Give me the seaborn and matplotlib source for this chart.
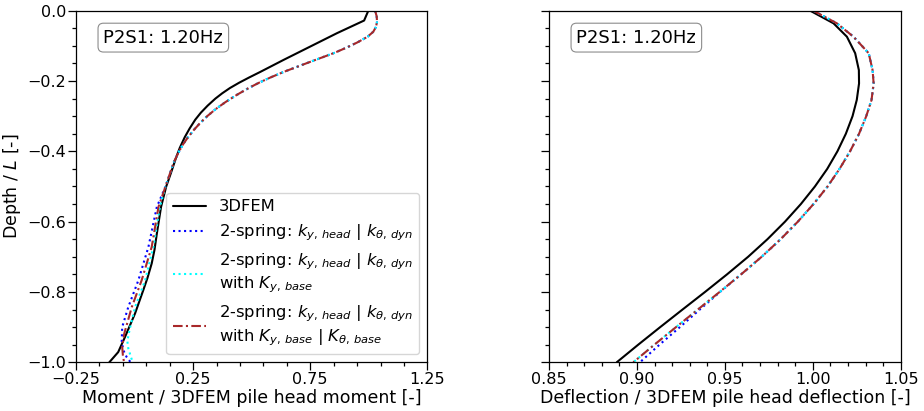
import matplotlib
matplotlib.use("Agg")
import matplotlib.pyplot as plt
import seaborn as sns
from matplotlib.ticker import MultipleLocator, AutoMinorLocator, FixedLocator, FuncFormatter

# ---------------------------------------------------------------------------
# Moment profiles, normalised by the 3DFEM pile-head moment
# ---------------------------------------------------------------------------
fem_m_depth = [0.0, -0.028, -0.064, -0.102, -0.140, -0.174, -0.190, -0.205, -0.220,
               -0.235, -0.250, -0.270, -0.290, -0.310, -0.335, -0.360, -0.390,
               -0.420, -0.460, -0.500, -0.558, -0.634, -0.680, -0.719, -0.760,
               -0.795, -0.861, -0.928, -0.971, -1.0]
fem_m = [0.998, 0.980, 0.864, 0.750, 0.636, 0.537, 0.489, 0.446, 0.407,
         0.374, 0.345, 0.312, 0.283, 0.259, 0.235, 0.214, 0.193,
         0.176, 0.156, 0.135, 0.113, 0.095, 0.085, 0.073, 0.055,
         0.037, 0.002, -0.041, -0.070, -0.108]

# the three 2-spring variants coincide in the upper half of the pile
spring_m_depth_top = [0.0, -0.017, -0.033, -0.047, -0.060, -0.074, -0.090, -0.105,
                      -0.120, -0.145, -0.174, -0.190, -0.205, -0.220, -0.240,
                      -0.260, -0.280, -0.300, -0.320, -0.340, -0.360, -0.380,
                      -0.400, -0.430, -0.465, -0.500]
spring_m_top = [1.027, 1.034, 1.035, 1.030, 1.019, 0.995, 0.952, 0.905,
                0.853, 0.752, 0.637, 0.580, 0.531, 0.487, 0.435,
                0.388, 0.346, 0.310, 0.279, 0.252, 0.228, 0.207,
                0.190, 0.168, 0.150, 0.132]

dyn_m_depth_tail = [-0.558, -0.672, -0.767, -0.843, -0.900, -0.942, -0.966, -0.985, -1.0]
dyn_m_tail = [0.095, 0.059, 0.016, -0.027, -0.053, -0.055, -0.048, -0.034, -0.017]

ybase_m_depth_tail = [-0.558, -0.672, -0.767, -0.843, -0.909, -0.940, -0.960, -0.980, -1.0]
ybase_m_tail = [0.108, 0.080, 0.045, 0.002, -0.022, -0.031, -0.027, -0.018, -0.008]

full_m_depth_tail = [-0.558, -0.672, -0.767, -0.843, -0.918, -0.956, -0.980, -1.0]
full_m_tail = [0.102, 0.073, 0.030, -0.012, -0.044, -0.053, -0.050, -0.045]

# ---------------------------------------------------------------------------
# Deflection profiles, normalised by the 3DFEM pile-head deflection
# ---------------------------------------------------------------------------
fem_d_depth = [0.0, -0.036, -0.074, -0.121, -0.169, -0.207, -0.254, -0.300, -0.350,
               -0.400, -0.450, -0.500, -0.550, -0.600, -0.650, -0.700, -0.750,
               -0.800, -0.850, -0.900, -0.950, -1.0]
fem_d = [0.9985, 1.0118, 1.0194, 1.0241, 1.0262, 1.0263, 1.0250, 1.0226, 1.0188,
         1.0140, 1.0082, 1.0012, 0.9932, 0.9842, 0.9742, 0.9632, 0.9512,
         0.9387, 0.9259, 0.9132, 0.9007, 0.8885]

spring_d_depth_top = [0.0, -0.036, -0.074, -0.121, -0.169, -0.207, -0.254, -0.300,
                      -0.350, -0.400, -0.450, -0.500, -0.550, -0.600, -0.650,
                      -0.700, -0.750]
spring_d_top = [1.0003, 1.0137, 1.0231, 1.0318, 1.0340, 1.0346, 1.0334, 1.0304,
                1.0263, 1.0212, 1.0152, 1.0084, 1.0004, 0.9915, 0.9817,
                0.9709, 0.9592]

dyn_d_depth_tail = [-0.800, -0.850, -0.900, -0.950, -1.0]
dyn_d_tail = [0.9472, 0.9357, 0.9244, 0.9128, 0.9017]

base_d_depth_tail = [-0.800, -0.850, -0.900, -0.950, -1.0]
base_d_tail = [0.9470, 0.9346, 0.9222, 0.9099, 0.8979]

labels = [
    "3DFEM",
    r"2-spring: $k_{y,\,head}$ | $k_{\theta,\,dyn}$",
    "2-spring: $k_{y,\\,head}$ | $k_{\\theta,\\,dyn}$\nwith $K_{y,\\,base}$",
    "2-spring: $k_{y,\\,head}$ | $k_{\\theta,\\,dyn}$\nwith $K_{y,\\,base}$ | $K_{\\theta,\\,base}$",
]

styles = [
    dict(color="black", lw=1.5, ls="-"),
    dict(color="blue", lw=1.5, ls=":"),
    dict(color="cyan", lw=1.5, ls=":"),
    dict(color="#a8282a", lw=1.5, ls=(0, (4.6, 1.6, 1.0, 1.6))),
]

sns.set_style("ticks", {"axes.edgecolor": "black", "xtick.color": "black",
                        "ytick.color": "black", "text.color": "black",
                        "axes.labelcolor": "black"})
plt.rcParams["font.family"] = ["DejaVu Sans"]
plt.rcParams["mathtext.fontset"] = "dejavusans"

fig = plt.figure(figsize=(9.24, 4.11), dpi=100)
ax1 = fig.add_axes([0.0823, 0.1185, 0.3802, 0.8555])
ax2 = fig.add_axes([0.5942, 0.1185, 0.3806, 0.8555])

moment_curves = [
    (fem_m, fem_m_depth),
    (spring_m_top + dyn_m_tail, spring_m_depth_top + dyn_m_depth_tail),
    (spring_m_top + ybase_m_tail, spring_m_depth_top + ybase_m_depth_tail),
    (spring_m_top + full_m_tail, spring_m_depth_top + full_m_depth_tail),
]
deflection_curves = [
    (fem_d, fem_d_depth),
    (spring_d_top + dyn_d_tail, spring_d_depth_top + dyn_d_depth_tail),
    (spring_d_top + base_d_tail, spring_d_depth_top + base_d_depth_tail),
    (spring_d_top + base_d_tail, spring_d_depth_top + base_d_depth_tail),
]

for (x, y), lab, st in zip(moment_curves, labels, styles):
    sns.lineplot(x=x, y=y, ax=ax1, sort=False, estimator=None, label=lab, **st)
for (x, y), st in zip(deflection_curves, styles):
    sns.lineplot(x=x, y=y, ax=ax2, sort=False, estimator=None, **st)

ax1.set_xlim(-0.25, 1.25)
ax1.xaxis.set_major_locator(FixedLocator([-0.25, 0.25, 0.75, 1.25]))
ax1.xaxis.set_minor_locator(AutoMinorLocator(5))
ax2.set_xlim(0.85, 1.05)
ax2.xaxis.set_major_locator(MultipleLocator(0.05))
ax2.xaxis.set_minor_locator(AutoMinorLocator(5))

ax1.xaxis.set_major_formatter(FuncFormatter(
    lambda v, p: f"{v:.2f}".replace("-", "\u2212")))
ax2.xaxis.set_major_formatter(FuncFormatter(lambda v, p: f"{v:.2f}"))

for ax in (ax1, ax2):
    ax.set_ylim(-1.0, 0.0)
    ax.yaxis.set_major_locator(MultipleLocator(0.2))
    ax.yaxis.set_minor_locator(AutoMinorLocator(4))
    ax.tick_params(which="both", direction="out", top=False, right=False,
                   labelsize=11.5, width=0.9, pad=1.5)
    ax.tick_params(which="major", length=5.5)
    ax.tick_params(which="minor", length=3.0)
    for sp in ax.spines.values():
        sp.set_visible(True)
        sp.set_linewidth(0.9)
    ax.text(0.078, 0.949, "P2S1: 1.20Hz", transform=ax.transAxes,
            ha="left", va="top", fontsize=13,
            bbox=dict(boxstyle="round,pad=0.3", fc="white", ec="0.55", lw=0.8))

ax2.tick_params(labelleft=False)

ax1.set_xlabel("Moment / 3DFEM pile head moment [-]", fontsize=12.5, labelpad=1.5)
ax2.set_xlabel("Deflection / 3DFEM pile head deflection [-]", fontsize=12.5, labelpad=1.5)
ax1.set_ylabel("Depth / $L$ [-]", fontsize=12.5)
ax1.yaxis.set_label_coords(-0.151, 0.5)
ax2.set_ylabel("")

ax1.legend(loc="lower right", fontsize=11.8, handlelength=2.0)

fig.savefig("out.png", dpi=100)
